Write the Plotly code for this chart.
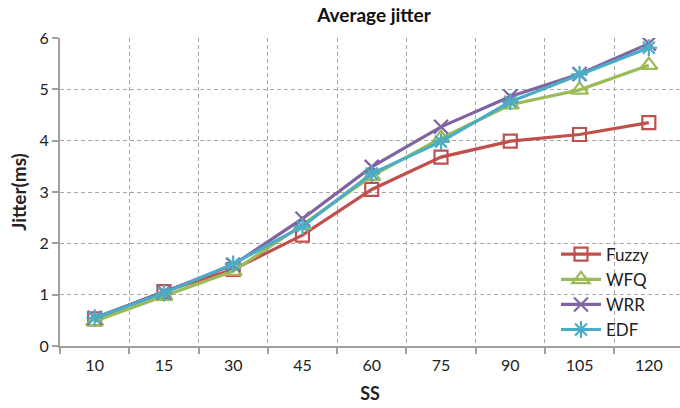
import plotly.graph_objects as go

categories = ["10", "15", "30", "45", "60", "75", "90", "105", "120"]
fuzzy = [0.53, 1.06, 1.49, 2.16, 3.05, 3.68, 3.99, 4.12, 4.35]
wfq = [0.48, 0.97, 1.46, 2.36, 3.31, 4.05, 4.70, 4.99, 5.47]
wrr = [0.55, 1.05, 1.58, 2.48, 3.49, 4.27, 4.86, 5.30, 5.89]
edf = [0.55, 1.03, 1.60, 2.33, 3.36, 3.98, 4.76, 5.29, 5.81]

series = [
    ("Fuzzy", fuzzy, "#C0504D", "square-open", 13),
    ("WFQ", wfq, "#9BBB59", "triangle-up-open", 15),
    ("WRR", wrr, "#8064A2", "x-thin-open", 14),
    ("EDF", edf, "#4BACC6", "asterisk-open", 14),
]

fig = go.Figure()
for name, vals, color, sym, size in series:
    fig.add_trace(go.Scatter(
        x=categories, y=vals, name=name, mode="lines+markers",
        line=dict(color=color, width=3.2),
        marker=dict(symbol=sym, size=size, color=color,
                    line=dict(color=color, width=2.2)),
    ))

font_family = "Lato, 'Open Sans', sans-serif"
fig.update_layout(
    width=680, height=408,
    margin=dict(l=60, r=0, t=38, b=62),
    paper_bgcolor="white", plot_bgcolor="white",
    font=dict(family=font_family, color="#222222", size=16),
    title=dict(text="<b>Average jitter</b>", x=374/680, xref="container", xanchor="center",
               y=1 - 15/408, yref="container", yanchor="middle",
               font=dict(size=19, family=font_family, color="#111111")),
    legend=dict(x=0.80, y=0.355, xanchor="left", yanchor="top",
                bgcolor="rgba(0,0,0,0)", font=dict(size=17, family=font_family),
                tracegroupgap=0, itemwidth=40),
    showlegend=True,
)
fig.update_xaxes(
    type="category", range=[-0.5, 8.45],
    tickson="boundaries", ticks="outside", ticklen=6, tickcolor="#A0A0A0", tickwidth=1.5,
    showgrid=True, gridcolor="#A6A6A6", griddash="4px,3px", gridwidth=1,
    showline=True, linecolor="#A0A0A0", linewidth=2,
    tickfont=dict(size=16), ticklabelstandoff=4,
    title=dict(text="<b>SS</b>", font=dict(size=18), standoff=14),
)
fig.update_yaxes(
    range=[0, 6], tickvals=[0, 1, 2, 3, 4, 5, 6],
    ticks="outside", ticklen=6, tickcolor="#A0A0A0", tickwidth=1.5,
    showgrid=True, gridcolor="#A6A6A6", griddash="4px,3px", gridwidth=1,
    showline=True, linecolor="#A0A0A0", linewidth=2, zeroline=False,
    tickfont=dict(size=16),
    title=dict(text="<b>Jitter(ms)</b>", font=dict(size=19), standoff=8),
)
fig.write_html("out.html")
